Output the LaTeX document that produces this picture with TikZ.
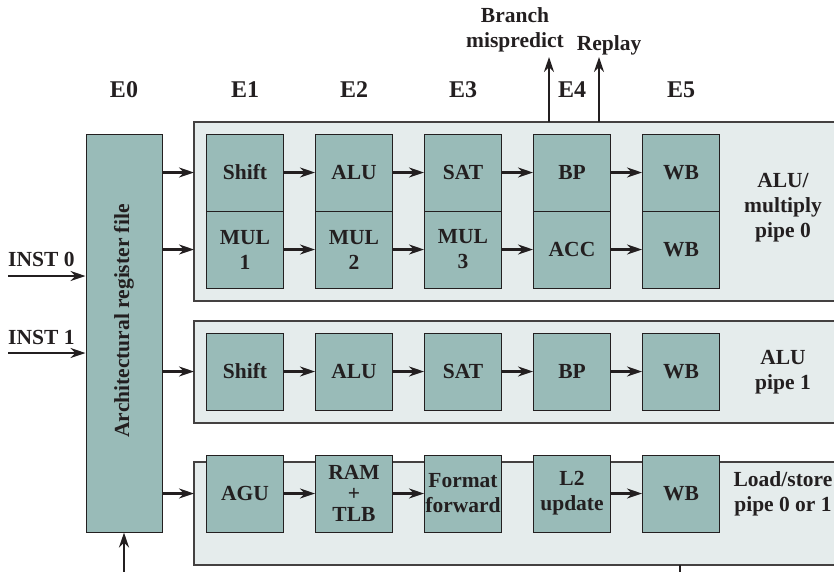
\documentclass[tikz,border=0pt]{standalone}
\usepackage{fontspec}
\setmainfont{Liberation Serif}
\usetikzlibrary{arrows.meta,positioning}
\definecolor{boxc}{RGB}{153,187,184}
\definecolor{panelc}{RGB}{229,236,236}
\definecolor{inkc}{RGB}{35,31,32}
\tikzset{
  unit/.style={draw=inkc,line width=1pt,fill=boxc,minimum width=77pt,minimum height=77pt,inner sep=0pt,
    font=\bfseries\fontsize{21.5}{25}\selectfont,text=inkc,align=center},
  panel/.style={draw=inkc!85,line width=1.2pt,fill=panelc},
  arr/.style={draw=inkc,line width=2.3pt,-{Stealth[length=15pt,width=10pt,inset=5pt]}},
  plain/.style={draw=inkc,line width=2.3pt},
  lbl/.style={font=\bfseries\fontsize{21.5}{25}\selectfont,text=inkc,align=center,inner sep=0pt},
  stage/.style={font=\bfseries\fontsize{24}{28}\selectfont,text=inkc,inner sep=0pt}
}
\begin{document}
\begin{tikzpicture}[x=1pt,y=-1pt]
\useasboundingbox (0,0) rectangle (834,571);
\clip (0,0) rectangle (834,571);
% panels
\path[panel] (194,122) rectangle (845,301);
\path[panel] (194,321) rectangle (845,423);
\path[panel] (194,462) rectangle (845,565);
\coordinate (p1w) at (194,122);
\coordinate (p2w) at (194,321);
\coordinate (p3w) at (194,462);
\coordinate (p1top) at (0,122);
\coordinate (p3bot) at (0,565);
% register file
\node[unit,minimum width=76pt,minimum height=398pt] (rf) at (124,333) {};
\node[lbl,rotate=90] at (124,321) {Architectural register file};
% stage labels
\node[stage] (e0) at (124,90) {E0};
\node[stage] (e1) at (245,90) {E1};
\node[stage] (e2) at (354,90) {E2};
\node[stage] (e3) at (463,90) {E3};
\node[stage] (e4) at (572,90) {E4};
\node[stage] (e5) at (681,90) {E5};
% pipe 0
\node[unit] (a1) at (245,172.5) {Shift};
\node[unit] (a2) at (354,172.5) {ALU};
\node[unit] (a3) at (463,172.5) {SAT};
\node[unit] (a4) at (572,172.5) {BP};
\node[unit] (a5) at (681,172.5) {WB};
\node[unit] (m1) at (245,249.5) {MUL\\1};
\node[unit] (m2) at (354,249.5) {MUL\\2};
\node[unit] (m3) at (463,249.5) {MUL\\3};
\node[unit] (m4) at (572,249.5) {ACC};
\node[unit] (m5) at (681,249.5) {WB};
\node[lbl] (l0) at (783,208) {ALU/\\multiply\\pipe 0};
% pipe 1
\node[unit] (b1) at (245,371.5) {Shift};
\node[unit] (b2) at (354,371.5) {ALU};
\node[unit] (b3) at (463,371.5) {SAT};
\node[unit] (b4) at (572,371.5) {BP};
\node[unit] (b5) at (681,371.5) {WB};
\node[lbl] (l1) at (783,372) {ALU\\pipe 1};
% load/store
\node[unit] (c1) at (245,493.5) {AGU};
\node[unit,font=\bfseries\fontsize{21.5}{21}\selectfont] (c2) at (354,493.5) {RAM\\+\\TLB};
\node[unit] (c3) at (463,493.5) {Format\\forward};
\node[unit] (c4) at (572,493.5) {L2\\update};
\node[unit] (c5) at (681,493.5) {WB};
\node[lbl] (l2) at (783,494) {Load/store\\pipe 0 or 1};
% arrows in pipes
\foreach \p/\q in {a1/a2,a2/a3,a3/a4,a4/a5,m1/m2,m2/m3,m3/m4,m4/m5,b1/b2,b2/b3,b3/b4,b4/b5,c1/c2,c2/c3,c4/c5}
  \draw[arr] (\p.east) -- (\q.west);
% register file to pipes
\draw[arr] (rf.east |- a1) -- (p1w |- a1);
\draw[arr] (rf.east |- m1) -- (p1w |- m1);
\draw[arr] (rf.east |- b1) -- (p2w |- b1);
\draw[arr] (rf.east |- c1) -- (p3w |- c1);
% inputs
\coordinate (i0) at (8,276);
\coordinate (i1) at (8,353);
\node[lbl,anchor=base west] (t0) at (8,266) {INST 0};
\node[lbl,anchor=base west] (t1) at (8,344) {INST 1};
\draw[arr] (i0) -- (rf.west |- i0);
\draw[arr] (i1) -- (rf.west |- i1);
\coordinate (bin) at (124,575);
\draw[arr] (bin) -- (rf.south);
% outputs
\coordinate (bm) at (549,57);
\coordinate (rp) at (599,57);
\draw[arr] (bm |- p1top) -- (bm);
\draw[arr] (rp |- p1top) -- (rp);
\node[lbl] (tbm) at (515,29.5) {Branch\\mispredict};
\node[lbl,anchor=base] (trp) at (609,50) {Replay};
\coordinate (bout) at (680,575);
\draw[plain] (bout |- p3bot) -- (bout);
\end{tikzpicture}
\end{document}
